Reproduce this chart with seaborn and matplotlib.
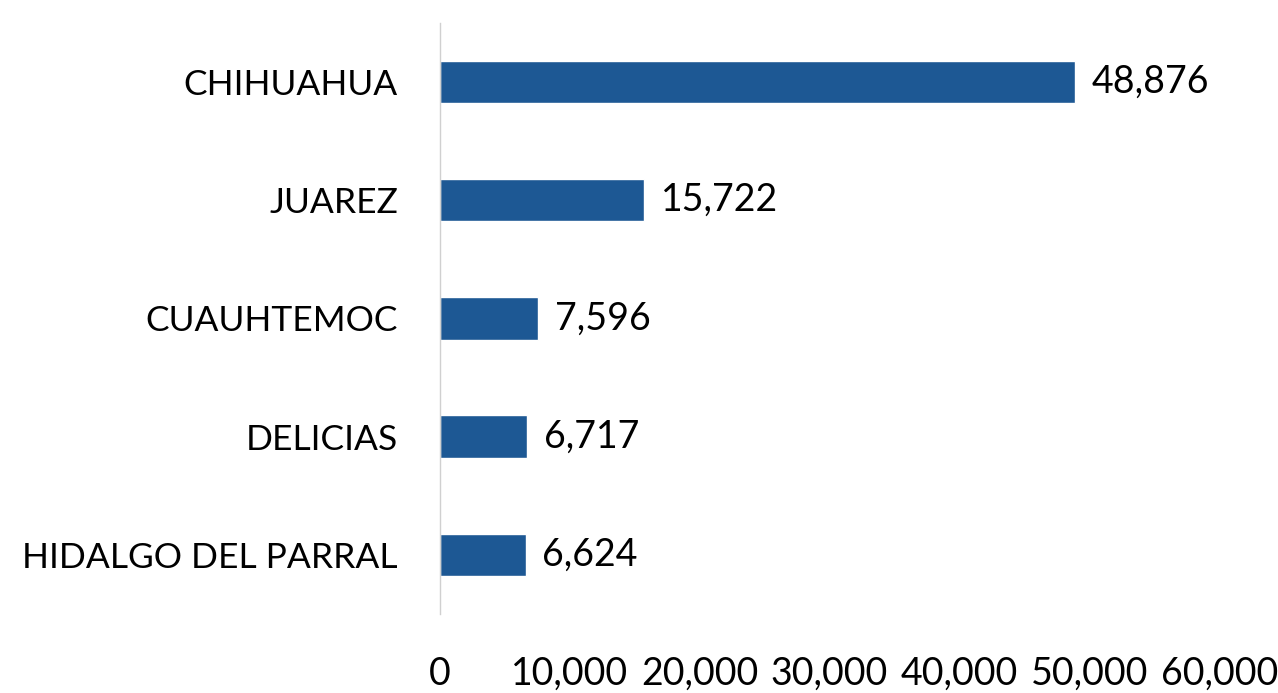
import matplotlib
matplotlib.use('Agg')
import matplotlib.pyplot as plt
import seaborn as sns
from matplotlib.ticker import FuncFormatter

sns.set_theme(style='white')
plt.rcParams['font.family'] = ['Lato', 'DejaVu Sans']

municipios = ['CHIHUAHUA', 'JUAREZ', 'CUAUHTEMOC', 'DELICIAS', 'HIDALGO DEL PARRAL']
valores = [48876, 15722, 7596, 6717, 6624]
xticks = [0, 10000, 20000, 30000, 40000, 50000, 60000]

BAR_COLOR = '#1D5894'
FS = 27

fig = plt.figure(figsize=(12.78, 6.93), dpi=100)
ax = fig.add_axes([0.344, 0.114, 0.61, 0.853])

sns.barplot(x=valores, y=municipios, color=BAR_COLOR, width=0.36,
            saturation=1, ax=ax)

ax.set_xlim(0, 60000)
ax.set_xticks(xticks)
ax.xaxis.set_major_formatter(FuncFormatter(lambda v, _: f'{v:,.0f}'))
ax.set_xlabel('')
ax.set_ylabel('')

for s in ['top', 'right', 'bottom']:
    ax.spines[s].set_visible(False)
ax.spines['left'].set_color('#d0d0d0')
ax.spines['left'].set_linewidth(1)

ax.tick_params(axis='x', length=0, pad=30, labelsize=FS, labelcolor='black')
ax.tick_params(axis='y', length=0, pad=30, labelsize=25.5, labelcolor='black')

for cont in ax.containers:
    ax.bar_label(cont, labels=[f'{v:,}' for v in valores], padding=12,
                 fontsize=FS, color='black')

fig.savefig('out.png', dpi=100)
